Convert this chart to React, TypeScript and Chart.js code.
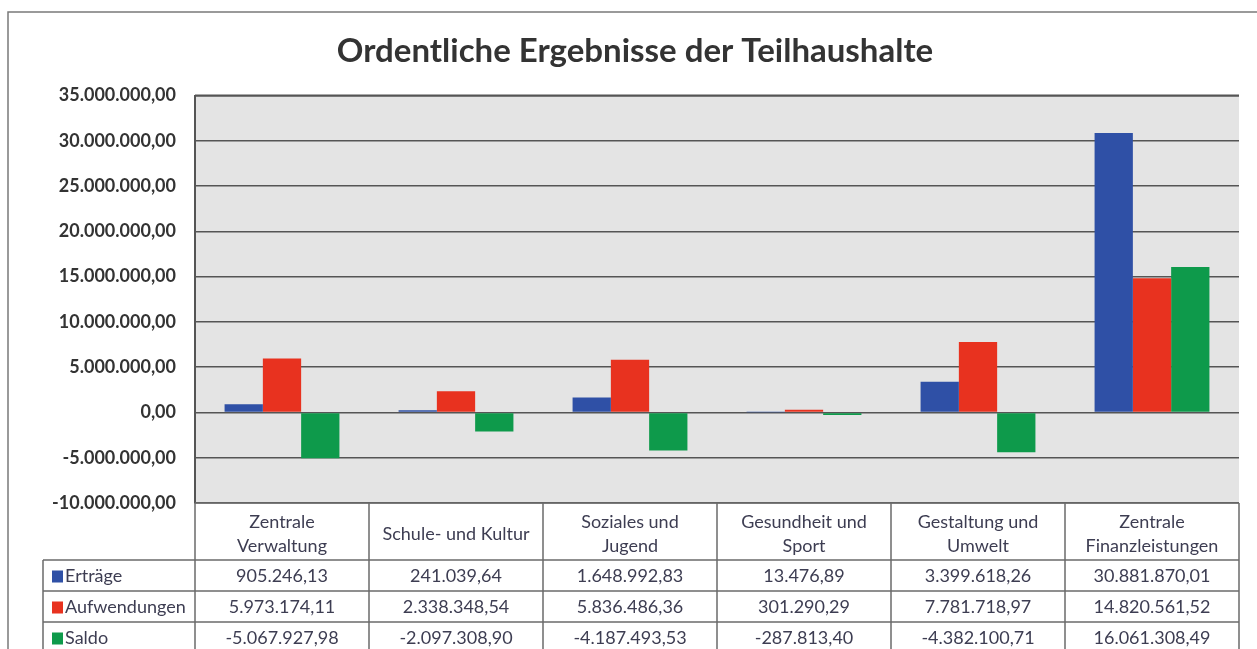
import React, { useEffect, useRef } from "react";
import { Chart, registerables } from "chart.js";

Chart.register(...registerables);

const categories: string[][] = [
  ["Zentrale", "Verwaltung"],
  ["Schule- und Kultur"],
  ["Soziales und", "Jugend"],
  ["Gesundheit und", "Sport"],
  ["Gestaltung und", "Umwelt"],
  ["Zentrale", "Finanzleistungen"],
];
const seriesNames = ["Erträge", "Aufwendungen", "Saldo"];
const ertraege = [905246.13, 241039.64, 1648992.83, 13476.89, 3399618.26, 30881870.01];
const aufwendungen = [5973174.11, 2338348.54, 5836486.36, 301290.29, 7781718.97, 14820561.52];
const saldo = [-5067927.98, -2097308.9, -4187493.53, -287813.4, -4382100.71, 16061308.49];
const seriesColors = ["#2f50a6", "#e8321f", "#0e9a4b"];
const yMin = -10000000;
const yMax = 35000000;
const yStep = 5000000;
const title = "Ordentliche Ergebnisse der Teilhaushalte";

function fmt(v: number): string {
  const neg = v < 0;
  const [i, d] = Math.abs(v).toFixed(2).split(".");
  const ii = i.replace(/\B(?=(\d{3})+(?!\d))/g, ".");
  return (neg ? "-" : "") + ii + "," + d;
}

const tablePlugin = {
  id: "tablePlugin",
  beforeDraw(chart: any) {
    const { ctx, chartArea: ca } = chart;
    ctx.save();
    ctx.fillStyle = "#ffffff";
    ctx.fillRect(0, 0, chart.width, chart.height);
    ctx.fillStyle = "#e4e4e4";
    ctx.fillRect(ca.left, ca.top, ca.right - ca.left, ca.bottom - ca.top);
    ctx.restore();
  },
  afterDraw(chart: any) {
    const { ctx, chartArea: ca } = chart;
    const datasets = chart.data.datasets;
    const n = categories.length;
    const cw = (ca.right - ca.left) / n;
    const top = ca.bottom;
    const headerBottom = top + 57;
    const rowH = 31;
    const legendLeft = 43;
    const tableBottom = headerBottom + rowH * datasets.length;
    ctx.save();
    // outer chart border
    ctx.strokeStyle = "#7a7a7a";
    ctx.lineWidth = 1.5;
    ctx.beginPath();
    ctx.moveTo(8, chart.height);
    ctx.lineTo(8, 12);
    ctx.lineTo(chart.width, 12);
    ctx.stroke();
    // plot top border
    ctx.strokeStyle = "#555555";
    ctx.lineWidth = 2;
    ctx.beginPath();
    ctx.moveTo(ca.left, ca.top);
    ctx.lineTo(ca.right, ca.top);
    ctx.stroke();
    // table lines
    ctx.strokeStyle = "#6b6b6b";
    ctx.lineWidth = 1.5;
    ctx.beginPath();
    ctx.moveTo(ca.left, top);
    ctx.lineTo(ca.right, top);
    for (let r = 0; r <= datasets.length; r++) {
      const y = headerBottom + r * rowH;
      ctx.moveTo(legendLeft, y);
      ctx.lineTo(ca.right, y);
    }
    for (let i = 0; i <= n; i++) {
      const x = ca.left + i * cw;
      ctx.moveTo(x, top);
      ctx.lineTo(x, tableBottom);
    }
    ctx.moveTo(legendLeft, headerBottom);
    ctx.lineTo(legendLeft, tableBottom);
    ctx.stroke();
    // header texts
    ctx.fillStyle = "#3d3d52";
    ctx.textAlign = "center";
    ctx.textBaseline = "middle";
    ctx.font = "18px Lato";
    const xs = chart.scales.x;
    categories.forEach((lines, i) => {
      const cx = xs.getPixelForValue(i);
      if (lines.length === 1) {
        ctx.fillText(lines[0], cx, top + 31);
      } else {
        lines.forEach((t, k) => ctx.fillText(t, cx, top + 19 + k * 24));
      }
    });
    // rows
    datasets.forEach((ds: any, r: number) => {
      const cy = headerBottom + r * rowH + rowH / 2 + 1;
      ctx.fillStyle = ds.backgroundColor;
      ctx.fillRect(52, cy - 6, 11, 12);
      ctx.fillStyle = "#3d3d52";
      ctx.textAlign = "left";
      ctx.font = "18px Lato";
      ctx.fillText(ds.label, 65, cy);
      ctx.textAlign = "center";
      ds.data.forEach((v: number, i: number) => {
        ctx.fillText(fmt(v), xs.getPixelForValue(i), cy);
      });
    });
    ctx.restore();
  },
};

export default function App() {
  const ref = useRef<HTMLCanvasElement | null>(null);
  useEffect(() => {
    if (!ref.current) return;
    const values = [ertraege, aufwendungen, saldo];
    const chart = new Chart(ref.current, {
      type: "bar",
      data: {
        labels: categories,
        datasets: values.map((d, i) => ({
          label: seriesNames[i],
          data: d,
          backgroundColor: seriesColors[i],
          borderWidth: 0,
          categoryPercentage: 0.66,
          barPercentage: 1.0,
        })),
      },
      options: {
        responsive: false,
        animation: false,
        layout: { padding: { left: 31, right: 18, top: 12, bottom: 146 } },
        plugins: {
          legend: { display: false },
          tooltip: { enabled: false },
          title: {
            display: true,
            text: title,
            color: "#333333",
            font: { family: "Lato", size: 33, weight: "bold", lineHeight: 1.2 },
            padding: { top: 20, bottom: 24 },
          },
        },
        scales: {
          x: {
            afterFit: (scale: any) => {
              scale.height = 0;
            },
            ticks: { display: false },
            grid: { display: false, drawTicks: false },
            border: { display: false },
          },
          y: {
            min: yMin,
            max: yMax,
            afterFit: (scale: any) => {
              scale.width = 164;
            },
            ticks: {
              stepSize: yStep,
              padding: 19,
              color: "#333333",
              font: { family: "Lato", size: 18, weight: "bold" },
              callback: (v: any) => fmt(Number(v)),
            },
            grid: { color: "#555555", lineWidth: 1.6, drawTicks: false },
            border: { display: true, color: "#555555", width: 2 },
          },
        },
      },
      plugins: [tablePlugin],
    });
    return () => chart.destroy();
  }, []);
  return (
    <div style={{ position: "fixed", left: 0, top: 0, width: 1257, height: 649, background: "#fff" }}>
      <canvas ref={ref} width={1257} height={649} style={{ display: "block", width: 1257, height: 649 }} />
    </div>
  );
}
